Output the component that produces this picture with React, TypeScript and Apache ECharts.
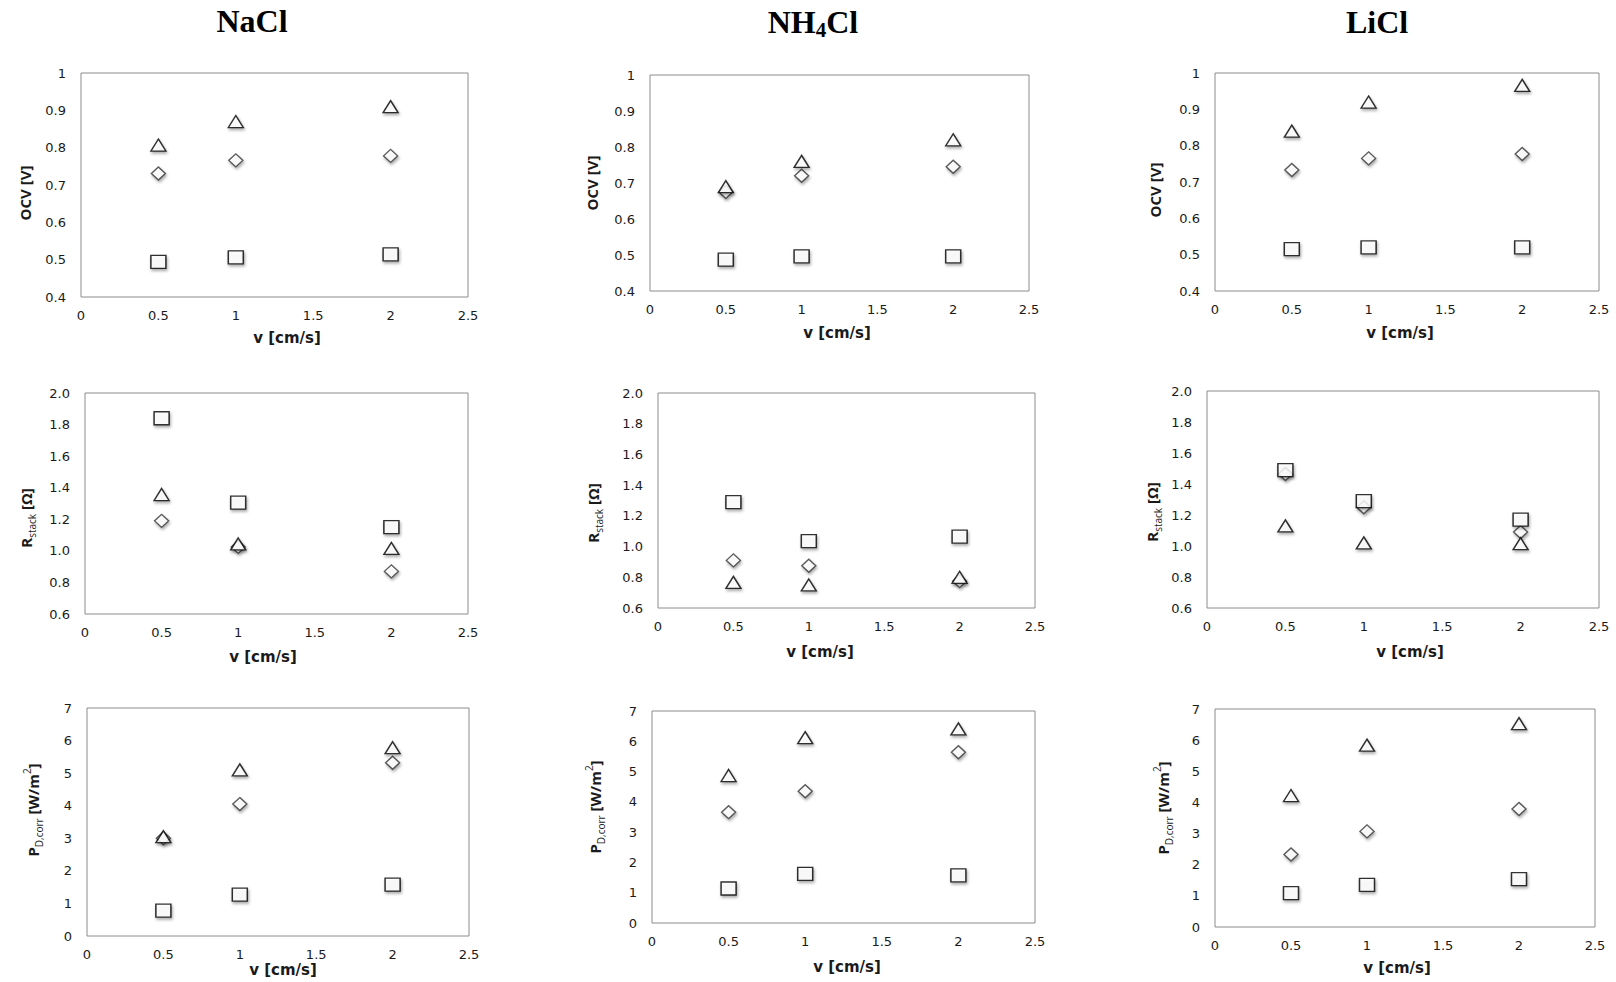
import React, { useEffect, useRef } from "react";
import * as echarts from "echarts";

// ---------- data ----------
const velocities = [0.5, 1, 2];

// OCV [V]
const naclOcvTri = [0.807, 0.87, 0.91];
const naclOcvDia = [0.731, 0.766, 0.778];
const naclOcvSq = [0.494, 0.506, 0.514];
const nh4clOcvTri = [0.69, 0.76, 0.82];
const nh4clOcvDia = [0.675, 0.72, 0.745];
const nh4clOcvSq = [0.487, 0.496, 0.496];
const liclOcvTri = [0.84, 0.92, 0.966];
const liclOcvDia = [0.733, 0.765, 0.777];
const liclOcvSq = [0.515, 0.52, 0.52];

// R_stack [Ohm]
const naclRTri = [1.357, 1.044, 1.015];
const naclRDia = [1.19, 1.025, 0.87];
const naclRSq = [1.84, 1.306, 1.15];
const nh4clRTri = [0.767, 0.75, 0.80];
const nh4clRDia = [0.91, 0.875, 0.775];
const nh4clRSq = [1.29, 1.035, 1.065];
const liclRTri = [1.13, 1.02, 1.015];
const liclRDia = [1.465, 1.25, 1.09];
const liclRSq = [1.49, 1.29, 1.17];

// P_D,corr [W/m2]
const naclPTri = [3.05, 5.1, 5.78];
const naclPDia = [3.0, 4.05, 5.32];
const naclPSq = [0.78, 1.27, 1.58];
const nh4clPTri = [4.87, 6.12, 6.41];
const nh4clPDia = [3.66, 4.35, 5.64];
const nh4clPSq = [1.14, 1.62, 1.57];
const liclPTri = [4.22, 5.84, 6.53];
const liclPDia = [2.33, 3.07, 3.79];
const liclPSq = [1.09, 1.35, 1.54];

const xName = "v [cm/s]";

// ---------- layout ----------
type Panel = {
  grid: [number, number, number, number];
  kind: "ocv" | "r" | "p";
  tri: number[];
  dia: number[];
  sq: number[];
  xName: [number, number];
  yName: [number, number];
};

const panels: Panel[] = [
  { grid: [81, 73, 387, 224], kind: "ocv", tri: naclOcvTri, dia: naclOcvDia, sq: naclOcvSq, xName: [287, 338], yName: [25, 193] },
  { grid: [650, 75, 379, 216], kind: "ocv", tri: nh4clOcvTri, dia: nh4clOcvDia, sq: nh4clOcvSq, xName: [837, 333], yName: [592, 183] },
  { grid: [1215, 73, 384, 218], kind: "ocv", tri: liclOcvTri, dia: liclOcvDia, sq: liclOcvSq, xName: [1400, 333], yName: [1155, 190] },
  { grid: [85, 393, 383, 221], kind: "r", tri: naclRTri, dia: naclRDia, sq: naclRSq, xName: [263, 657], yName: [26, 518] },
  { grid: [658, 393, 377, 215], kind: "r", tri: nh4clRTri, dia: nh4clRDia, sq: nh4clRSq, xName: [820, 652], yName: [593, 513] },
  { grid: [1207, 391, 392, 217], kind: "r", tri: liclRTri, dia: liclRDia, sq: liclRSq, xName: [1410, 652], yName: [1152, 512] },
  { grid: [87, 708, 382, 228], kind: "p", tri: naclPTri, dia: naclPDia, sq: naclPSq, xName: [283, 970], yName: [33, 810] },
  { grid: [652, 711, 383, 212], kind: "p", tri: nh4clPTri, dia: nh4clPDia, sq: nh4clPSq, xName: [847, 967], yName: [595, 807] },
  { grid: [1215, 709, 380, 218], kind: "p", tri: liclPTri, dia: liclPDia, sq: liclPSq, xName: [1397, 968], yName: [1163, 808] },
];

const yAxisSpec = {
  ocv: { min: 0.4, max: 1, interval: 0.1, fmt: (v: number) => String(Math.round(v * 10) / 10) },
  r: { min: 0.6, max: 2.0, interval: 0.2, fmt: (v: number) => (Math.round(v * 10) / 10).toFixed(1) },
  p: { min: 0, max: 7, interval: 1, fmt: (v: number) => String(Math.round(v)) },
};

const yNameText = {
  ocv: "{b|OCV [V]}",
  r: "{b|R}{sub|stack}{b| [Ω]}",
  p: "{b|P}{sub|D,corr}{b| [W/m}{sup|2}{b|]}",
};

const tickFont = { fontFamily: "DejaVu Sans", fontSize: 13, color: "#1a1a1a" };

const shadow = {
  shadowColor: "rgba(0,0,0,0.4)",
  shadowBlur: 3,
  shadowOffsetX: 1,
  shadowOffsetY: 2,
};

function buildOption() {
  const grid: any[] = [];
  const xAxis: any[] = [];
  const yAxis: any[] = [];
  const series: any[] = [];
  const graphic: any[] = [];

  panels.forEach((p, i) => {
    const [left, top, width, height] = p.grid;
    grid.push({
      left, top, width, height,
      show: true,
      borderColor: "#8c8c8c",
      borderWidth: 1,
      backgroundColor: "#fff",
      containLabel: false,
    });
    xAxis.push({
      type: "value",
      gridIndex: i,
      min: 0,
      max: 2.5,
      interval: 0.5,
      axisLine: { show: false },
      axisTick: { show: false },
      splitLine: { show: false },
      axisLabel: {
        ...tickFont,
        margin: 12,
        showMinLabel: true,
        showMaxLabel: true,
        formatter: (v: number) => String(Math.round(v * 10) / 10),
      },
    });
    const ys = yAxisSpec[p.kind];
    yAxis.push({
      type: "value",
      gridIndex: i,
      min: ys.min,
      max: ys.max,
      interval: ys.interval,
      axisLine: { show: false },
      axisTick: { show: false },
      splitLine: { show: false },
      axisLabel: {
        ...tickFont,
        margin: 15,
        showMinLabel: true,
        showMaxLabel: true,
        formatter: ys.fmt,
      },
    });

    const mk = (vals: number[]) => velocities.map((v, k) => [v, vals[k]]);
    series.push({
      type: "scatter",
      xAxisIndex: i,
      yAxisIndex: i,
      symbol: "diamond",
      symbolSize: [14, 13],
      itemStyle: { color: "#fff", borderColor: "#333", borderWidth: 1.4, ...shadow },
      data: mk(p.dia),
    });
    series.push({
      type: "scatter",
      xAxisIndex: i,
      yAxisIndex: i,
      symbol: "rect",
      symbolSize: [15, 13],
      itemStyle: { color: "#fff", borderColor: "#000", borderWidth: 1.4, ...shadow },
      data: mk(p.sq),
    });
    series.push({
      type: "scatter",
      xAxisIndex: i,
      yAxisIndex: i,
      symbol: "triangle",
      symbolSize: [15, 12],
      itemStyle: { color: "#fff", borderColor: "#000", borderWidth: 1.4, ...shadow },
      data: mk(p.tri),
    });

    graphic.push({
      type: "text",
      x: p.xName[0],
      y: p.xName[1],
      style: {
        text: xName,
        fontFamily: "DejaVu Sans",
        fontWeight: "bold",
        fontSize: 15,
        fill: "#1a1a1a",
        align: "center",
        verticalAlign: "middle",
      },
    });
    graphic.push({
      type: "text",
      x: p.yName[0],
      y: p.yName[1],
      rotation: Math.PI / 2,
      style: {
        text: yNameText[p.kind],
        align: "center",
        verticalAlign: "middle",
        fill: "#1a1a1a",
        rich: {
          b: { fontFamily: "Open Sans", fontWeight: "bold", fontSize: 15, lineHeight: 22, fill: "#1a1a1a" },
          sub: { fontFamily: "Open Sans", fontWeight: "normal", fontSize: 10, lineHeight: 13, verticalAlign: "bottom", fill: "#1a1a1a" },
          sup: { fontFamily: "Open Sans", fontWeight: "normal", fontSize: 10, lineHeight: 19, verticalAlign: "top", fill: "#1a1a1a" },
        },
      },
    });
  });

  const titleRich = {
    t: { fontFamily: "Liberation Serif", fontWeight: "bold", fontSize: 32, lineHeight: 36, fill: "#000" },
    s: { fontFamily: "Liberation Serif", fontWeight: "bold", fontSize: 21, lineHeight: 32, verticalAlign: "bottom", fill: "#000" },
  };
  const titles: [string, number, number][] = [
    ["{t|NaCl}", 252, 21],
    ["{t|NH}{s|4}{t|Cl}", 813, 22],
    ["{t|LiCl}", 1377, 22],
  ];
  titles.forEach(([text, x, y]) => {
    graphic.push({
      type: "text",
      x,
      y,
      style: { text, rich: titleRich, align: "center", verticalAlign: "middle", fill: "#000" },
    });
  });

  return {
    animation: false,
    backgroundColor: "#fff",
    grid,
    xAxis,
    yAxis,
    series,
    graphic,
  };
}

export default function App() {
  const ref = useRef<HTMLDivElement>(null);
  useEffect(() => {
    if (!ref.current) return;
    const chart = echarts.init(ref.current, null, { renderer: "svg" });
    chart.setOption(buildOption() as any);
    return () => chart.dispose();
  }, []);
  return (
    <div
      ref={ref}
      style={{ position: "fixed", left: 0, top: 0, width: 1616, height: 982, background: "#fff" }}
    />
  );
}
